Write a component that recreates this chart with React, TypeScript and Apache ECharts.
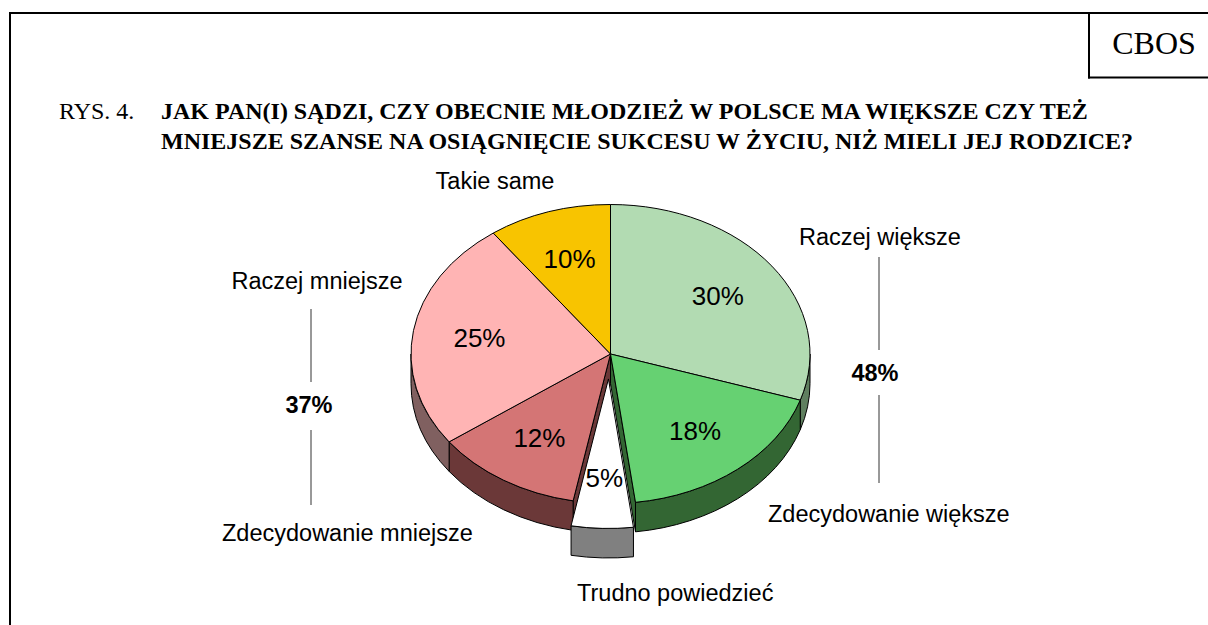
import React, { useEffect, useRef } from "react";
import * as echarts from "echarts";

const categories = ["Raczej większe", "Zdecydowanie większe", "Trudno powiedzieć", "Zdecydowanie mniejsze", "Raczej mniejsze", "Takie same"];
const values = [30, 18, 5, 12, 25, 10];
const topColors = ["#B2DBB2", "#66D172", "#FFFFFF", "#D47575", "#FFB4B4", "#F8C400"];
const sideColors = ["#5F7F5F", "#336633", "#808080", "#6B3838", "#806060", "#7C6200"];
const explode = [0, 0, 0.167, 0, 0, 0];
const groupTotals = ["48%", "37%"];
const figureNo = "RYS. 4.";
const titleLines = [
  "JAK PAN(I) SĄDZI, CZY OBECNIE MŁODZIEŻ W POLSCE MA WIĘKSZE CZY TEŻ",
  "MNIEJSZE SZANSE NA OSIĄGNIĘCIE SUKCESU W ŻYCIU, NIŻ MIELI JEJ RODZICE?",
];
const brand = "CBOS";

const CX = 610.5, CY = 354, RX = 199.5, RY = 149.5, DEPTH = 29.5, EXPLODE_SHIFT_X = -1;
const total = values.reduce((a, b) => a + b, 0);
const SANS = '"Liberation Sans", Arial, sans-serif';
const SERIF = '"Liberation Serif", "Times New Roman", serif';

function sliceGeom(i: number) {
  const before = values.slice(0, i).reduce((a, b) => a + b, 0);
  const a0 = (before / total) * Math.PI * 2;
  const a1 = ((before + values[i]) / total) * Math.PI * 2;
  const mid = (a0 + a1) / 2;
  const ox = CX + RX * explode[i] * Math.sin(mid) + (explode[i] > 0 ? EXPLODE_SHIFT_X : 0);
  const oy = CY - RY * explode[i] * Math.cos(mid);
  const pt = (a: number, dy = 0): [number, number] => [ox + RX * Math.sin(a), oy - RY * Math.cos(a) + dy];
  return { a0, a1, mid, ox, oy, pt };
}
const f = (p: [number, number]) => `${p[0].toFixed(2)} ${p[1].toFixed(2)}`;
const arcTo = (p: [number, number]) => `A ${RX} ${RY} 0 0 1 ${f(p)}`;
const arcBack = (p: [number, number]) => `A ${RX} ${RY} 0 0 0 ${f(p)}`;

function wallElements(i: number) {
  const { a0, a1, ox, oy, pt } = sliceGeom(i);
  const side = sideColors[i];
  const els: any[] = [];
  const style = { fill: side, stroke: "#000", lineWidth: 1 };
  // radial walls bordering the exploded slice's gap
  const radial = (a: number) => {
    els.push({
      type: "path",
      shape: { pathData: `M ${f([ox, oy])} L ${f(pt(a))} L ${f(pt(a, DEPTH))} L ${f([ox, oy + DEPTH])} Z` },
      style,
    });
  };
  if (explode[i] === 0) {
    if (explode[(i + 1) % values.length] > 0) radial(a1);
    if (explode[(i - 1 + values.length) % values.length] > 0) radial(a0);
  }
  // outer rim: only the part facing the viewer
  const s = Math.max(a0, Math.PI / 2);
  const e = Math.min(a1, (Math.PI * 3) / 2);
  if (s < e) {
    els.push({
      type: "path",
      shape: { pathData: `M ${f(pt(s))} ${arcTo(pt(e))} L ${f(pt(e, DEPTH))} ${arcBack(pt(s, DEPTH))} Z` },
      style,
    });
  }
  return els;
}

function topElements(i: number) {
  const { a0, a1, mid, ox, oy, pt } = sliceGeom(i);
  return [
    {
      type: "path",
      shape: { pathData: `M ${f([ox, oy])} L ${f(pt(a0))} ${arcTo(pt(a1))} Z` },
      style: { fill: topColors[i], stroke: "#000", lineWidth: 1 },
    },
    {
      type: "text",
      x: ox + RX * 0.665 * Math.sin(mid),
      y: oy - RY * 0.665 * Math.cos(mid),
      style: {
        text: `${values[i]}%`,
        font: `26px ${SANS}`,
        fill: "#000",
        align: "center",
        verticalAlign: "middle",
      },
    },
  ];
}

const render = (mode: "walls" | "tops" | "exploded") => (params: any) => {
  const i = params.dataIndex;
  const isExploded = explode[i] > 0;
  let children: any[] = [];
  if (mode === "walls" && !isExploded) children = wallElements(i);
  if (mode === "tops" && !isExploded) children = topElements(i);
  if (mode === "exploded" && isExploded) children = [...wallElements(i), ...topElements(i)];
  return { type: "group", children };
};

const text = (t: string, x: number, y: number, font: string, align = "left") => ({
  type: "text",
  x,
  y,
  style: { text: t, font, fill: "#000", align, verticalAlign: "middle" },
});
const line = (x1: number, y1: number, x2: number, y2: number, width: number, color = "#000") => ({
  type: "line",
  shape: { x1, y1, x2, y2 },
  style: { stroke: color, lineWidth: width },
});

const LABEL = `23.5px ${SANS}`;
const TOTAL = `bold 23.5px ${SANS}`;
const T_REG = `24px ${SERIF}`;
const T_BOLD = `bold 24px ${SERIF}`;

export default function App() {
  const ref = useRef<HTMLDivElement>(null);
  useEffect(() => {
    const chart = echarts.init(ref.current!, null, { renderer: "svg" });
    const data = values.map((v) => [v]);
    chart.setOption({
      animation: false,
      backgroundColor: "#fff",
      series: (["walls", "tops", "exploded"] as const).map((m, k) => ({
        type: "custom",
        coordinateSystem: "none",
        silent: true,
        z: 2 + k,
        data,
        renderItem: render(m),
      })),
      graphic: [
        line(10, 12, 10, 625, 2),
        line(9, 13, 1208, 13, 2),
        line(1089, 13, 1089, 78.5, 2),
        line(1088, 77.5, 1208, 77.5, 2),
        text(brand, 1154, 43, `32px ${SERIF}`, "center"),
        text(figureNo, 59, 111, T_REG),
        text(titleLines[0], 161, 111, T_BOLD),
        text(titleLines[1], 161, 141, T_BOLD),
        text(categories[5], 495, 181, LABEL, "center"),
        text(categories[0], 799, 237, LABEL),
        text(categories[4], 317, 281, LABEL, "center"),
        text(categories[1], 768, 514, LABEL),
        text(categories[3], 222, 533, LABEL),
        text(categories[2], 577, 593, LABEL),
        text(groupTotals[0], 875, 373, TOTAL, "center"),
        text(groupTotals[1], 309, 405, TOTAL, "center"),
        line(879, 257, 879, 350, 1, "#333"),
        line(879, 395, 879, 483, 1, "#333"),
        line(311, 309, 311, 382, 1, "#333"),
        line(311, 430, 311, 505, 1, "#333"),
      ],
    });
    return () => chart.dispose();
  }, []);
  return <div ref={ref} style={{ position: "fixed", left: 0, top: 0, width: 1208, height: 625 }} />;
}
